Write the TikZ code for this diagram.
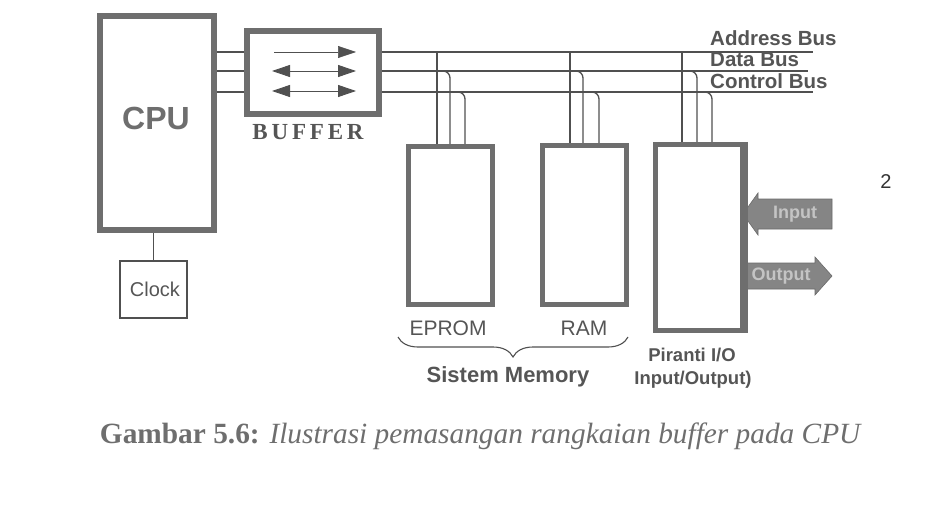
\documentclass[tikz,border=0pt]{standalone}
\usepackage{fontspec}
\setmainfont{Liberation Serif}
\setsansfont{Liberation Sans}
\usetikzlibrary{arrows.meta,decorations.pathreplacing,calc}
\definecolor{boxgray}{HTML}{6E6E6E}
\definecolor{linegray}{HTML}{505050}
\definecolor{txtgray}{HTML}{555555}
\definecolor{arrfill}{HTML}{858585}
\definecolor{arrtxt}{HTML}{C4C4C4}
\begin{document}
\begin{tikzpicture}[x=1pt,y=-1pt,
  thickbox/.style={draw=boxgray, line width=#1, fill=white, inner sep=0pt},
  thickbox/.default=5pt,
  bus/.style={draw=linegray, line width=1.3pt},
  tap/.style={bus, rounded corners=7pt},
  inarrow/.style={draw=linegray, line width=0.9pt},
  blockarrow/.style={fill=arrfill, draw=arrfill!80!black, line width=0.6pt},
  lbl/.style={font=\sffamily, text=txtgray, inner sep=0pt},
  boldlbl/.style={font=\sffamily\bfseries, text=txtgray, inner sep=0pt},
  buslbl/.style={font=\sffamily\bfseries\fontsize{20.5}{20.5}\selectfont, text=txtgray, inner sep=0pt, anchor=base west},
  arrlbl/.style={font=\sffamily\bfseries\fontsize{18}{18}\selectfont, text=arrtxt, inner sep=0pt}]
\useasboundingbox (0,0) rectangle (942,516);

% main boxes
\node[thickbox=6pt, minimum width=114pt, minimum height=214pt] (cpu) at (157,123) {};
\node[lbl, font=\sffamily\bfseries\fontsize{32}{32}\selectfont, text=boxgray] (cpulbl) at (156,118) {CPU};
\node[thickbox=6pt, minimum width=132pt, minimum height=83pt] (buf) at (313,72.5) {};
\node[font=\rmfamily\bfseries\fontsize{23}{23}\selectfont, text=txtgray, inner sep=0pt] (buflbl) at (308,132) {B\,U\,F\,F\,E\,R};
\node[draw=linegray, line width=1.2pt, minimum width=67pt, minimum height=57pt, inner sep=0pt] (clock) at (153.5,289.5) {};
\node[lbl, font=\sffamily\fontsize{20}{20}\selectfont] (clocklbl) at (155,289) {Clock};

\node[thickbox, minimum width=84pt, minimum height=158pt] (eprom) at (450.5,225.5) {};
\node[thickbox, minimum width=84pt, minimum height=159pt] (ram) at (584.5,225) {};
\node[thickbox, minimum width=87pt, minimum height=186pt] (io) at (699,237.5) {};

% bus levels
\coordinate (yA) at (0,52);
\coordinate (yD) at (0,71);
\coordinate (yC) at (0,92);
\coordinate (endA) at (813,52);
\coordinate (endD) at (808,71);
\coordinate (endC) at (813,92);

% CPU to buffer
\draw[bus] (cpu.east |- yA) -- (buf.west |- yA);
\draw[bus] (cpu.east |- yD) -- (buf.west |- yD);
\draw[bus] (cpu.east |- yC) -- (buf.west |- yC);

% buses
\draw[bus] (buf.east |- yA) -- (endA);
\draw[bus] (buf.east |- yD) -- (endD);
\draw[bus] (buf.east |- yC) -- (endC);

% arrows inside buffer
\draw[inarrow, -{Triangle[length=18pt,width=12pt]}, line width=0.6pt] (274,52) -- (356,52);
\draw[inarrow, {Triangle[length=18pt,width=12pt]}-{Triangle[length=18pt,width=12pt]}] (272,71) -- (356,71);
\draw[inarrow, {Triangle[length=18pt,width=12pt]}-{Triangle[length=18pt,width=12pt]}] (272,91) -- (356,91);

% bus labels
\node[buslbl] (addr) at (710,46) {Address Bus};
\node[buslbl] (data) at (710,66.5) {Data Bus};
\node[buslbl] (ctrl) at (710,89) {Control Bus};

% taps EPROM
\coordinate (e1) at (437,52);
\coordinate (e2) at (450,71);
\coordinate (e3) at (465,92);
\draw[bus] (e1) -- (e1 |- eprom.north);
\draw[tap] ([xshift=-13pt]e2) -- (e2) -- (e2 |- eprom.north);
\draw[tap] ([xshift=-13pt]e3) -- (e3) -- (e3 |- eprom.north);
% taps RAM
\coordinate (r1) at (570,52);
\coordinate (r2) at (583,71);
\coordinate (r3) at (599,92);
\draw[bus] (r1) -- (r1 |- ram.north);
\draw[tap] ([xshift=-13pt]r2) -- (r2) -- (r2 |- ram.north);
\draw[tap] ([xshift=-13pt]r3) -- (r3) -- (r3 |- ram.north);
% taps IO
\coordinate (i1) at (682,52);
\coordinate (i2) at (697,71);
\coordinate (i3) at (712,92);
\draw[bus] (i1) -- (i1 |- io.north);
\draw[tap] ([xshift=-13pt]i2) -- (i2) -- (i2 |- io.north);
\draw[tap] ([xshift=-13pt]i3) -- (i3) -- (i3 |- io.north);

% CPU to clock
\draw[bus, line width=1.2pt] (clock.north) -- (clock.north |- cpu.south);

% memory labels
\node[lbl, font=\sffamily\fontsize{21}{21}\selectfont] (epromlbl) at (448,328) {EPROM};
\node[lbl, font=\sffamily\fontsize{21}{21}\selectfont] (ramlbl) at (584,328) {RAM};
\coordinate (brL) at (398,337);
\coordinate (brR) at (628,337);
\draw[linegray, line width=1.1pt, decorate, decoration={brace, mirror, amplitude=20pt}] (brL) -- (brR);
\node[boldlbl, font=\sffamily\bfseries\fontsize{22}{22}\selectfont] (memlbl) at (508,377) {Sistem Memory};

% IO labels
\node[boldlbl, font=\sffamily\bfseries\fontsize{18.5}{18.5}\selectfont] (iolbl1) at (692,355) {Piranti I/O};
\node[boldlbl, font=\sffamily\bfseries\fontsize{18.5}{18.5}\selectfont] (iolbl2) at (693,380) {Input/Output)};

% input / output block arrows
\draw[blockarrow] (743,214) -- (758,193) -- (758,199) -- (832,199) -- (832,229) -- (758,229) -- (758,235) -- cycle;
\node[arrlbl] (inlbl) at (795,214) {Input};
\draw[blockarrow] (745,263) -- (815,263) -- (815,257) -- (832,276) -- (815,295) -- (815,289) -- (745,289) -- cycle;
\node[arrlbl] (outlbl) at (781,276) {Output};
\draw[boxgray, line width=5pt] (io.north east) -- (io.south east);

% handwritten mark
\node[font=\sffamily\fontsize{20}{20}\selectfont, text=black!80, inner sep=0pt] (hand) at (886,182) {2};

% caption
\node[text=boxgray, inner sep=0pt, anchor=base] (cap) at (481,443) {\resizebox{762pt}{!}{\fontsize{24}{24}\selectfont\textbf{Gambar 5.6:} \textit{Ilustrasi pemasangan rangkaian buffer pada CPU}}};
\end{tikzpicture}
\end{document}
